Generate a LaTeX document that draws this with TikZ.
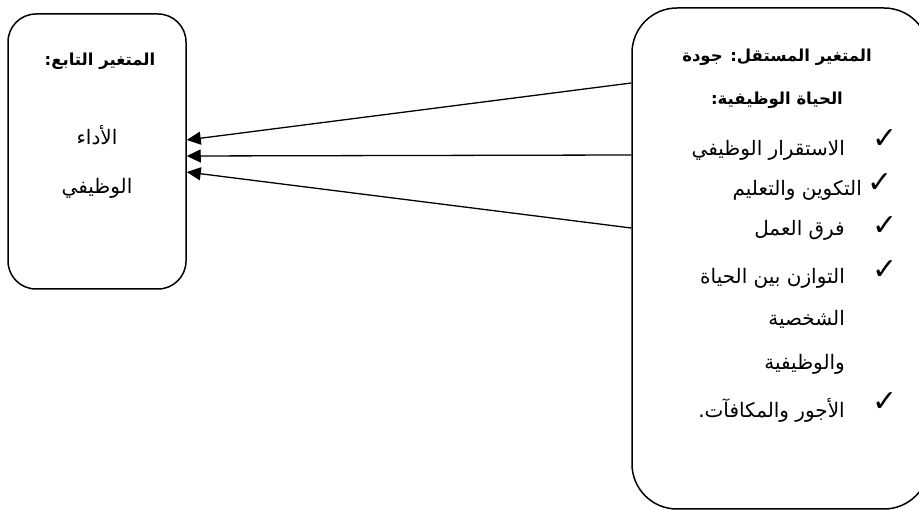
\documentclass[tikz,border=0pt]{standalone}
\usepackage{fontspec}
\usetikzlibrary{arrows.meta}
\TeXXeTstate=1
\newfontfamily\arabicfont[Script=Arabic]{DejaVu Sans}
\newfontfamily\symfont{DejaVu Sans}
\tikzset{
  box/.style={draw, line width=1.5pt, rounded corners=#1, inner sep=0pt},
  txt/.style={font=\arabicfont\fontsize{20}{22}\selectfont, inner sep=0pt},
  ttl/.style={font=\arabicfont\bfseries\fontsize{16.5}{19}\selectfont, inner sep=0pt},
  chk/.style={font=\symfont\fontsize{30}{32}\selectfont, inner sep=0pt},
  arr/.style={line width=1.3pt, -{Triangle[length=14pt,width=13pt]}}
}
\begin{document}
\begin{tikzpicture}[x=1pt,y=-1pt]
\useasboundingbox (0,0) rectangle (919,510);
\clip (0,0) rectangle (919,510);
% boxes
\node[box=28pt, minimum width=178pt, minimum height=275pt] (dep) at (97,151.5) {};
\node[box=45pt, minimum width=297pt, minimum height=501pt] (indep) at (780.5,258.5) {};
% left texts
\node[ttl] (dt) at (100,61) {\beginR المتغير التابع:\endR};
\node[txt] (d1) at (97,135) {\beginR الأداء\endR};
\node[txt] (d2) at (97,188) {\beginR الوظيفي\endR};
% right texts
\node[ttl] (it1) at (777,57) {\beginR المتغير المستقل: جودة\endR};
\node[ttl] (it2) at (777,100) {\beginR الحياة الوظيفية:\endR};
\node[txt, anchor=east] (i1) at (845,150) {\beginR الاستقرار الوظيفي\endR};
\node[txt, anchor=east] (i2) at (862,190) {\beginR التكوين والتعليم\endR};
\node[txt, anchor=east] (i3) at (845,230) {\beginR فرق العمل\endR};
\node[txt, anchor=east] (i4) at (845,278) {\beginR التوازن بين الحياة\endR};
\node[txt, anchor=east] (i5) at (845,319) {\beginR الشخصية\endR};
\node[txt, anchor=east] (i6) at (845,364) {\beginR والوظيفية\endR};
\node[txt, anchor=east] (i7) at (845,410) {\beginR الأجور والمكافآت.\endR};
% checkmarks
\node[chk] (c1) at (885,139) {✓};
\node[chk] (c2) at (880,183) {✓};
\node[chk] (c3) at (885,226) {✓};
\node[chk] (c4) at (885,270) {✓};
\node[chk] (c7) at (885,402) {✓};
% arrows
\coordinate (s1) at (indep.west |- 0,83);
\coordinate (s2) at (indep.west |- 0,155);
\coordinate (s3) at (indep.west |- 0,228);
\coordinate (t1) at (dep.east |- 0,140);
\coordinate (t2) at (dep.east |- 0,156);
\coordinate (t3) at (dep.east |- 0,172);
\draw[arr] (s1) -- (t1);
\draw[arr] (s2) -- (t2);
\draw[arr] (s3) -- (t3);
\end{tikzpicture}
\end{document}
